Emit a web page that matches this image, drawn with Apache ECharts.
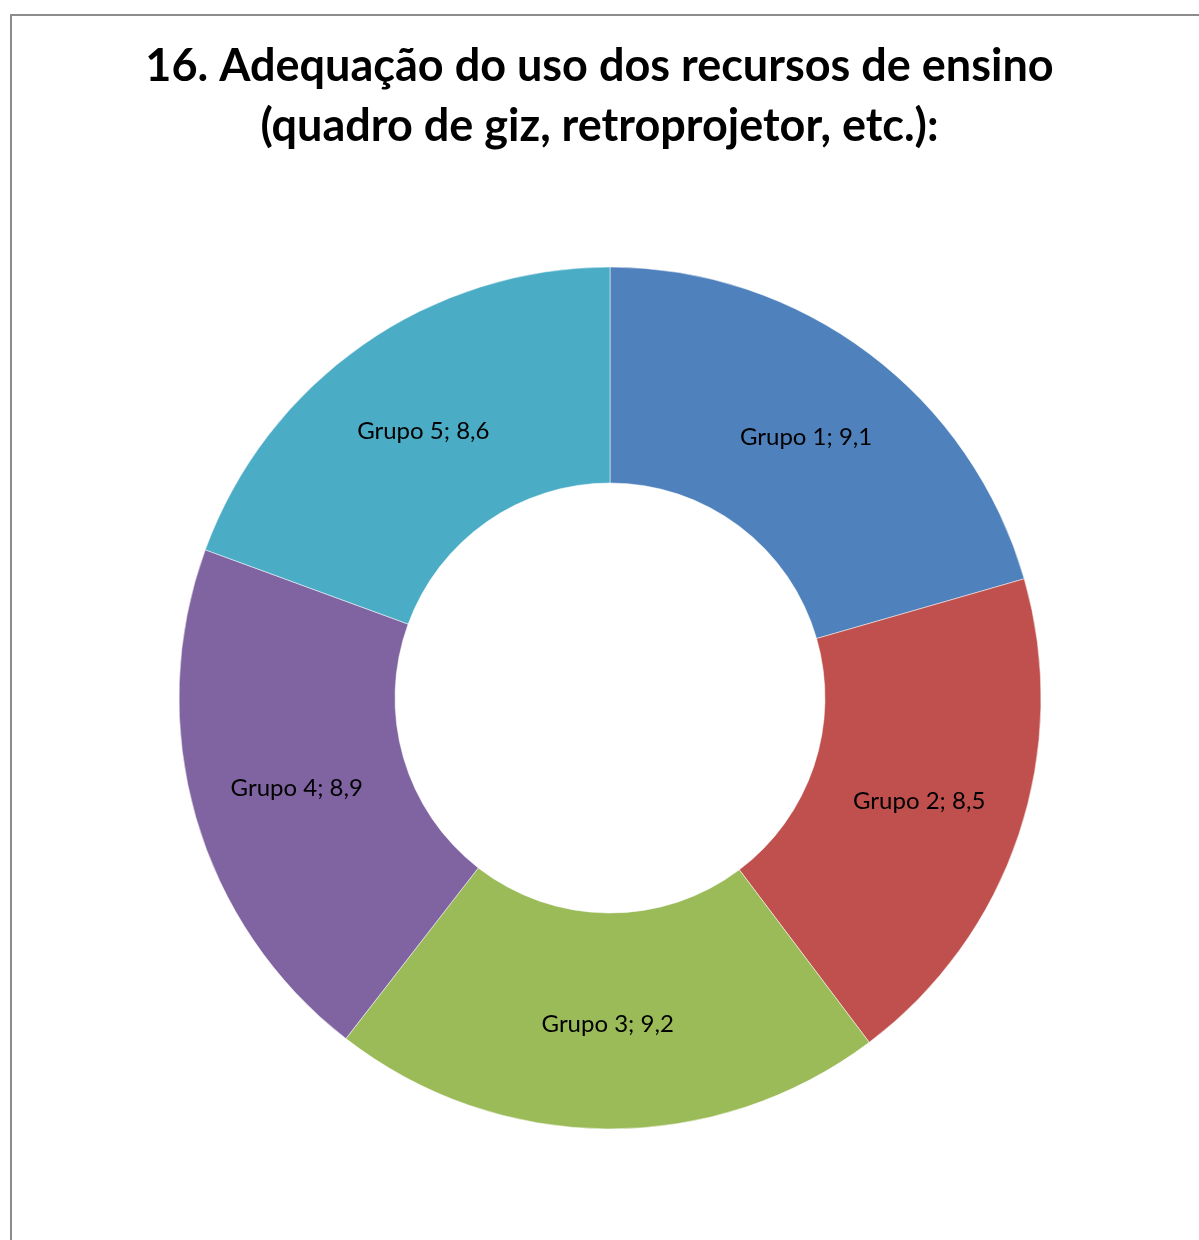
<!DOCTYPE html>
<html>
<head>
<meta charset="utf-8">
<script src="https://cdn.jsdelivr.net/npm/echarts@6/dist/echarts.min.js"></script>
<style>
html,body{margin:0;padding:0;background:#fff;width:1199px;height:1240px;overflow:hidden;}
#frame{position:absolute;left:10px;top:14px;width:1250px;height:1300px;border:2px solid #8c8c8c;box-sizing:border-box;}
#chart{position:absolute;left:0;top:0;width:1199px;height:1240px;}
</style>
</head>
<body>
<div id="frame"></div>
<div id="chart"></div>
<script>
var titleText = '16. Adequação do uso dos recursos de ensino\n(quadro de giz, retroprojetor, etc.):';
var categories = ['Grupo 1', 'Grupo 2', 'Grupo 3', 'Grupo 4', 'Grupo 5'];
var values = [9.1, 8.5, 9.2, 8.9, 8.6];
var colors = ['#4F81BD', '#C0504D', '#9BBB59', '#8064A2', '#4BACC6'];

var chart = echarts.init(document.getElementById('chart'), null, {renderer: 'canvas'});
var data = categories.map(function (c, i) { return {name: c, value: values[i]}; });
chart.setOption({
  animation: false,
  color: colors,
  title: {
    text: titleText,
    left: 'center',
    top: 31,
    textStyle: {fontFamily: 'Lato', fontWeight: 'bold', fontSize: 45, lineHeight: 60, color: '#000'}
  },
  series: [{
    type: 'pie',
    center: [610, 698],
    radius: [215, 431],
    startAngle: 90,
    clockwise: true,
    data: data,
    itemStyle: {borderColor: '#fff', borderWidth: 0.5},
    label: {
      show: true,
      position: 'inside',
      fontFamily: 'Lato',
      fontSize: 24,
      color: '#000',
      formatter: function (p) { return p.name + '; ' + String(p.value).replace('.', ','); }
    },
    labelLine: {show: false},
    emphasis: {disabled: true}
  }]
});
</script>
</body>
</html>
